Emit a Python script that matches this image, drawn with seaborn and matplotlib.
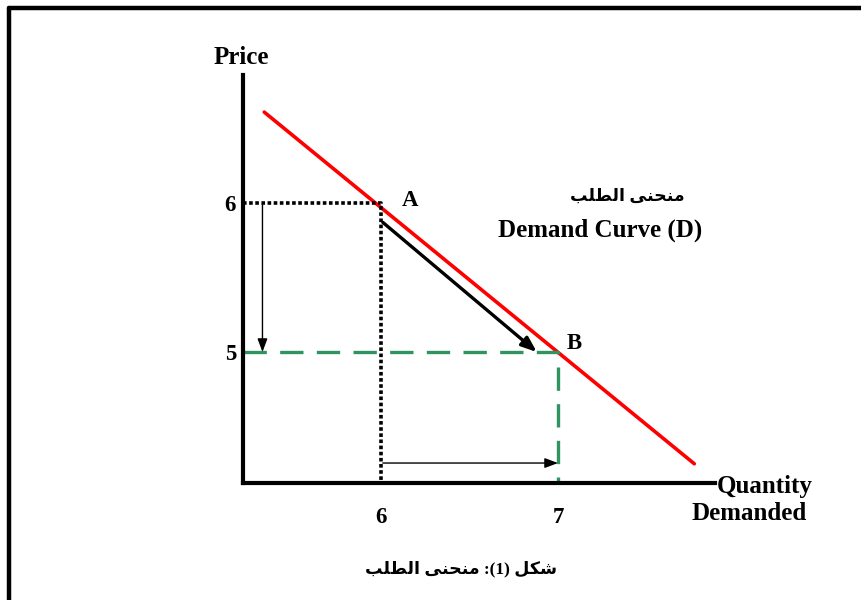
import matplotlib
matplotlib.use('Agg')
import matplotlib.pyplot as plt
from matplotlib.lines import Line2D
import pandas as pd
import seaborn as sns

# demand curve end points (quantity, price)
demand_q = [5.34, 7.77]
demand_p = [6.61, 4.25]

# the two points on the curve
point_labels = ['A', 'B']
point_q = [6, 7]
point_p = [6, 5]

# movement arrow along the curve, and the price / quantity change arrows
move_q = [6.01, 6.88]
move_p = [5.87, 5.0]
price_arrow_q = 5.33
qty_arrow_p = 4.255

x_limits = [5.22, 7.887]
y_limits = [4.121, 6.859]

# Arabic text pre-shaped (presentation forms, visual order)
ar_demand = '\uFE90\uFEE0\uFEC4\uFEDF\uFE8D \uFEF0\uFEE8\uFEA4\uFEE8\uFEE3'
ar_caption = ar_demand + ' :(1) ' + '\uFEDE\uFEDC\uFEB7'

sns.set_style('white')
plt.rcParams['font.family'] = ['Liberation Serif', 'DejaVu Sans']
plt.rcParams['font.weight'] = 'bold'
plt.rcParams['text.color'] = 'black'
plt.rcParams['xtick.color'] = 'black'
plt.rcParams['ytick.color'] = 'black'

W, H = 862, 600
fig = plt.figure(figsize=(W / 100, H / 100), dpi=100)
ax = fig.add_axes([243 / W, (H - 483) / H, (715 - 243) / W, (483 - 75) / H])

df = pd.DataFrame({'q': demand_q, 'p': demand_p})
sns.lineplot(data=df, x='q', y='p', ax=ax, color='red', lw=2.6)

# dotted guides for point A
qa, pa = point_q[0], point_p[0]
ax.plot([x_limits[0], qa, qa], [pa, pa, y_limits[0]], color='black', ls=(0, (1, 0.7)), lw=2.6)
# dashed guides for point B
qb, pb = point_q[1], point_p[1]
ax.plot([x_limits[0], qb, qb], [pb, pb, y_limits[0]], color='#2f9460', ls=(0, (7, 4)), lw=2.4)

# movement along the curve
ax.annotate('', xy=(move_q[1], move_p[1]), xytext=(move_q[0], move_p[0]),
            arrowprops=dict(arrowstyle='-|>,head_length=0.9,head_width=0.35', color='black', lw=2.4,
                            shrinkA=0, shrinkB=0))
ax.annotate('', xy=(price_arrow_q, pb), xytext=(price_arrow_q, pa - 0.01),
            arrowprops=dict(arrowstyle='-|>,head_length=0.8,head_width=0.3', color='black', lw=1.0,
                            shrinkA=0, shrinkB=0))
ax.annotate('', xy=(qb, qty_arrow_p), xytext=(qa + 0.01, qty_arrow_p),
            arrowprops=dict(arrowstyle='-|>,head_length=0.8,head_width=0.3', color='black', lw=1.0,
                            shrinkA=0, shrinkB=0))

ax.text(point_q[0] + 0.165, point_p[0] + 0.02, point_labels[0], fontsize=16.5, fontweight='bold',
        ha='center', va='center')
ax.text(point_q[1] + 0.09, point_p[1] + 0.06, point_labels[1], fontsize=16.5, fontweight='bold',
        ha='center', va='center')

ax.set_xlim(x_limits)
ax.set_ylim(y_limits)
ax.set_xticks(point_q)
ax.set_yticks(sorted(point_p))
ax.set_xlabel('')
ax.set_ylabel('')
ax.tick_params(length=0, labelsize=16.5, labelcolor='black')
ax.tick_params(axis='x', pad=17)
ax.tick_params(axis='y', pad=5)
for lab in ax.get_xticklabels() + ax.get_yticklabels():
    lab.set_fontweight('bold')
for s in ['top', 'right']:
    ax.spines[s].set_visible(False)
for s in ['left', 'bottom']:
    ax.spines[s].set_linewidth(3)
    ax.spines[s].set_color('black')
ax.patch.set_alpha(0)

fig.text(241 / W, 1 - 57 / H, 'Price', fontsize=18, fontweight='bold', ha='center', va='center')
fig.text(717 / W, 1 - 487 / H, 'Quantity', fontsize=18, fontweight='bold', ha='left', va='center')
fig.text(749 / W, 1 - 514 / H, 'Demanded', fontsize=18, fontweight='bold', ha='center', va='center')
fig.text(600 / W, 1 - 230 / H, 'Demand Curve (D)', fontsize=18, fontweight='bold', ha='center', va='center')
fig.text(627 / W, 1 - 197 / H, ar_demand, fontsize=12.5, fontweight='bold', ha='center', va='center',
         family=['Liberation Serif', 'DejaVu Sans'])
fig.text(461 / W, 1 - 569 / H, ar_caption, fontsize=12.5, fontweight='bold', ha='center', va='center',
         family=['Liberation Serif', 'DejaVu Sans'])

# page frame (top and left edges)
fig.add_artist(Line2D([9 / W, 1], [1 - 7.5 / H, 1 - 7.5 / H], color='black', lw=3.2))
fig.add_artist(Line2D([9 / W, 9 / W], [0, 1 - 7.5 / H], color='black', lw=3.2))

fig.savefig('out.png', dpi=100)
